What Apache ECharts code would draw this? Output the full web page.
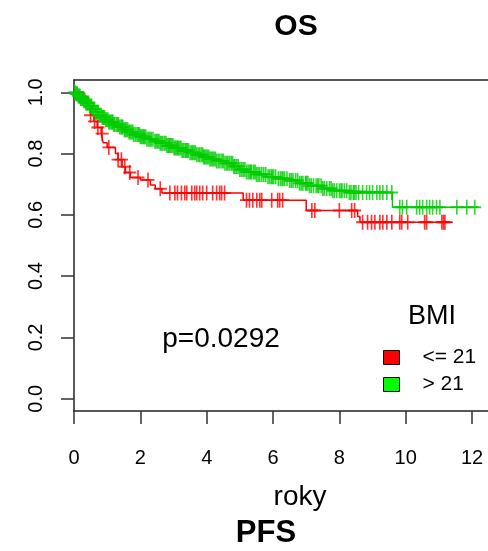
<!DOCTYPE html>
<html>
<head>
<meta charset="utf-8">
<script src="https://cdn.jsdelivr.net/npm/echarts@6/dist/echarts.min.js"></script>
<style>
html,body{margin:0;padding:0;background:#fff;}
#c{width:488px;height:551px;}
</style>
</head>
<body>
<div id="c"></div>
<script>
// ---- data ----
const xTicks = [0, 2, 4, 6, 8, 10, 12];
const yTicks = [0, 0.2, 0.4, 0.6, 0.8, 1.0];
const groupNames = ['<= 21', '> 21'];

// BMI <= 21 : step times and survival
const lowTimes = [0, 0.30, 0.42, 0.50, 0.60, 0.70, 0.82, 0.88, 1.00, 1.25, 1.33, 1.45, 1.55, 1.70, 2.00, 2.30, 2.45, 2.65, 5.10, 7.00, 8.55, 8.62, 11.42];
const lowSurv  = [1.0, 0.985, 0.955, 0.925, 0.905, 0.885, 0.865, 0.835, 0.82, 0.80, 0.78, 0.757, 0.738, 0.722, 0.714, 0.697, 0.685, 0.671, 0.648, 0.614, 0.595, 0.576, 0.576];
const lowCensor = [0.5, 0.62, 0.72, 0.85, 1.05, 1.33, 1.43, 1.53, 1.68, 1.93, 2.23, 2.6, 2.89, 3.04, 3.12, 3.24, 3.34, 3.4, 3.55, 3.64, 3.7, 3.79, 3.88, 4.0, 4.18, 4.3, 4.39, 4.45, 4.54, 5.2, 5.29, 5.39, 5.51, 5.6, 5.66, 5.96, 6.14, 6.2, 6.29, 7.17, 7.26, 8.0, 8.37, 8.46, 8.7, 8.85, 8.97, 9.07, 9.22, 9.31, 9.43, 9.58, 9.82, 9.88, 10.06, 10.57, 10.63, 11.09, 11.14, 11.18];

// BMI > 21 : step times and survival
const highTimes = [0, 0.05, 0.12, 0.2, 0.28, 0.35, 0.45, 0.55, 0.65, 0.75, 0.85, 0.95, 1.05, 1.2, 1.35, 1.5, 1.65, 1.8, 2.0, 2.2, 2.4, 2.6, 2.8, 3.0, 3.25, 3.5, 3.7, 3.9, 4.1, 4.3, 4.55, 4.8, 5.0, 5.2, 5.5, 5.8, 6.1, 6.5, 6.8, 7.1, 7.5, 7.8, 8.3, 9.6, 12.2];
const highSurv  = [1.0, 0.995, 0.988, 0.98, 0.972, 0.965, 0.955, 0.945, 0.935, 0.925, 0.918, 0.91, 0.903, 0.895, 0.887, 0.878, 0.870, 0.862, 0.855, 0.847, 0.840, 0.834, 0.826, 0.818, 0.810, 0.803, 0.796, 0.789, 0.782, 0.776, 0.768, 0.758, 0.748, 0.740, 0.732, 0.724, 0.718, 0.712, 0.703, 0.695, 0.686, 0.679, 0.673, 0.625, 0.625];
const highCensor = [0.03, 0.06, 0.08, 0.1, 0.13, 0.15, 0.18, 0.2, 0.22, 0.25, 0.27, 0.3, 0.33, 0.36, 0.38, 0.41, 0.44, 0.47, 0.5, 0.53, 0.56, 0.58, 0.62, 0.65, 0.68, 0.71, 0.74, 0.78, 0.82, 0.85, 0.88, 0.92, 0.95, 0.98, 1.02, 1.05, 1.08, 1.12, 1.15, 1.17, 1.2, 1.23, 1.28, 1.31, 1.34, 1.38, 1.42, 1.45, 1.47, 1.52, 1.55, 1.58, 1.62, 1.66, 1.69, 1.73, 1.77, 1.8, 1.85, 1.9, 1.94, 1.97, 2.0, 2.03, 2.07, 2.1, 2.12, 2.16, 2.2, 2.25, 2.29, 2.33, 2.38, 2.44, 2.48, 2.52, 2.56, 2.6, 2.64, 2.68, 2.73, 2.77, 2.8, 2.84, 2.87, 2.9, 2.94, 2.98, 3.02, 3.05, 3.09, 3.12, 3.14, 3.18, 3.22, 3.26, 3.3, 3.35, 3.38, 3.41, 3.45, 3.5, 3.55, 3.58, 3.62, 3.66, 3.7, 3.75, 3.79, 3.84, 3.88, 3.91, 3.94, 3.98, 4.02, 4.06, 4.1, 4.14, 4.18, 4.22, 4.26, 4.3, 4.35, 4.4, 4.46, 4.5, 4.55, 4.6, 4.64, 4.69, 4.74, 4.78, 4.82, 4.85, 4.9, 4.95, 5.0, 5.05, 5.1, 5.15, 5.2, 5.25, 5.3, 5.33, 5.36, 5.42, 5.46, 5.5, 5.55, 5.6, 5.66, 5.72, 5.78, 5.85, 5.9, 5.95, 5.98, 6.02, 6.08, 6.16, 6.22, 6.27, 6.3, 6.35, 6.42, 6.5, 6.55, 6.6, 6.68, 6.74, 6.8, 6.85, 6.9, 6.98, 7.0, 7.05, 7.1, 7.15, 7.22, 7.3, 7.35, 7.38, 7.45, 7.5, 7.55, 7.62, 7.7, 7.75, 7.8, 7.85, 7.92, 8.0, 8.05, 8.08, 8.15, 8.22, 8.3, 8.35, 8.42, 8.45, 8.5, 8.58, 8.7, 8.82, 8.91, 9.0, 9.13, 9.22, 9.31, 9.43, 9.58, 9.82, 9.9, 10.03, 10.33, 10.42, 10.51, 10.63, 10.72, 10.81, 10.93, 11.03, 11.54, 11.84, 12.08];

// ---- helpers ----
function survAt(times, surv, t) {
  let s = surv[0];
  for (let i = 0; i < times.length; i++) { if (times[i] <= t) s = surv[i]; else break; }
  return s;
}
const zip = (a, b) => a.map((v, i) => [v, b[i]]);
const censorPts = (c, times, surv) => c.map(t => [t, survAt(times, surv, t)]);

const FONT = "'Liberation Sans', Arial, Helvetica, sans-serif";
const RED = '#FF0000', GREEN = '#00CD00';
const PLUS = 'path://M-1.25,-10H1.25V10H-1.25ZM-10,-1.25H10V1.25H-10Z';
const BOX = {show: true, onZero: false, lineStyle: {color: '#222', width: 1.5}};

const chart = echarts.init(document.getElementById('c'), null, {renderer: 'canvas'});
chart.setOption({
  animation: false,
  backgroundColor: '#fff',
  textStyle: {fontFamily: FONT},
  grid: {left: 74, top: 80, right: 0, height: 331, show: false},
  xAxis: [{
    type: 'value', min: 0, max: 12.48, position: 'bottom',
    axisLine: BOX, splitLine: {show: false},
    axisTick: {show: true, customValues: xTicks, length: 13, lineStyle: {color: '#333', width: 1.5}},
    axisLabel: {customValues: xTicks, margin: 37, fontSize: 20, color: '#000', fontFamily: FONT}
  }, {
    type: 'value', min: 0, max: 12.48, position: 'top',
    axisLine: BOX, splitLine: {show: false}, axisTick: {show: false}, axisLabel: {show: false}
  }],
  yAxis: {
    type: 'value', min: -0.04, max: 1.04,
    axisLine: BOX, splitLine: {show: false},
    axisTick: {show: true, customValues: yTicks, length: 13, lineStyle: {color: '#333', width: 1.5}},
    axisLabel: {customValues: yTicks, rotate: 90, margin: 28, fontSize: 20, color: '#000', fontFamily: FONT,
      formatter: v => v.toFixed(1)}
  },
  legend: {
    orient: 'vertical', left: 383, top: 347, padding: 0, itemGap: 6,
    itemWidth: 16, itemHeight: 14, selectedMode: false,
    textStyle: {fontSize: 21, color: '#000', fontFamily: FONT, padding: [0, 0, 0, 18]},
    data: [
      {name: groupNames[0], icon: 'rect', itemStyle: {color: '#FF0000', borderColor: '#000', borderWidth: 1}},
      {name: groupNames[1], icon: 'rect', itemStyle: {color: '#00FF00', borderColor: '#000', borderWidth: 1}}
    ]
  },
  graphic: [
    {type: 'text', style: {text: 'OS', font: "bold 30px " + FONT, fill: '#000', align: 'center', verticalAlign: 'middle'}, x: 296, y: 27},
    {type: 'text', style: {text: 'PFS', font: "bold 31px " + FONT, fill: '#000', align: 'center', verticalAlign: 'middle'}, x: 266, y: 533},
    {type: 'text', style: {text: 'roky', font: "28px " + FONT, fill: '#000', align: 'center', verticalAlign: 'middle'}, x: 300, y: 497},
    {type: 'text', style: {text: 'p=0.0292', font: "28px " + FONT, fill: '#000', align: 'center', verticalAlign: 'middle'}, x: 221, y: 339},
    {type: 'text', style: {text: 'BMI', font: "27px " + FONT, fill: '#000', align: 'center', verticalAlign: 'middle'}, x: 432, y: 317}
  ],
  series: [
    {name: groupNames[0], type: 'line', step: 'end', data: zip(lowTimes, lowSurv), showSymbol: false, symbol: 'none',
      xAxisIndex: 0, lineStyle: {color: RED, width: 1.5}, itemStyle: {color: RED}, z: 2},
    {name: groupNames[0] + ' censor', type: 'scatter', data: censorPts(lowCensor, lowTimes, lowSurv),
      xAxisIndex: 0, symbol: PLUS, symbolSize: [13, 15], itemStyle: {color: RED}, z: 2},
    {name: groupNames[1], type: 'line', step: 'end', data: zip(highTimes, highSurv), showSymbol: false, symbol: 'none',
      xAxisIndex: 0, lineStyle: {color: GREEN, width: 1.5}, itemStyle: {color: GREEN}, z: 3},
    {name: groupNames[1] + ' censor', type: 'scatter', data: censorPts(highCensor, highTimes, highSurv),
      xAxisIndex: 0, symbol: PLUS, symbolSize: [13, 15], itemStyle: {color: GREEN}, z: 3}
  ]
});
</script>
</body>
</html>
